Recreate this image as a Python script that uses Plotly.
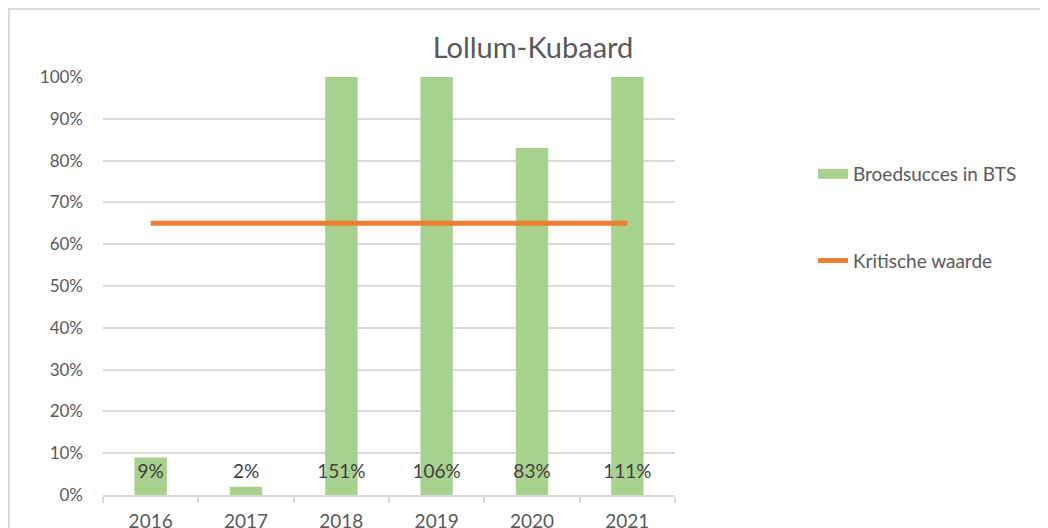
import plotly.graph_objects as go

years = ["2016", "2017", "2018", "2019", "2020", "2021"]
broedsucces = [0.09, 0.02, 1.51, 1.06, 0.83, 1.11]
kritische_waarde = [0.65, 0.65, 0.65, 0.65, 0.65, 0.65]
y_ticks = [0, 0.1, 0.2, 0.3, 0.4, 0.5, 0.6, 0.7, 0.8, 0.9, 1.0]

FONT = "Lato"
GREEN = "#A9D18E"
ORANGE = "#ED7D31"
GRID = "#D9D9D9"
TXT = "#595959"

# figure is placed at (8,8) in the page by the default body margin
W, H = 1040, 520
L, R, T, B = 95, 667, 69, 487
pw, ph = R - L, B - T

fig = go.Figure()
fig.add_trace(go.Bar(
    x=years, y=broedsucces, marker=dict(color=GREEN, line=dict(width=0)),
    name="Broedsucces in BTS", showlegend=False,
))
fig.add_trace(go.Scatter(
    x=years, y=[0.053] * len(years), mode="text",
    text=[f"{round(v*100)}%" for v in broedsucces],
    textfont=dict(family=FONT, size=19, color="#404040"),
    showlegend=False, hoverinfo="skip", cliponaxis=False,
))
fig.add_trace(go.Scatter(
    x=years, y=kritische_waarde, mode="lines",
    line=dict(color=ORANGE, width=5), name="Kritische waarde",
    showlegend=False,
))
# legend proxies
fig.add_trace(go.Scatter(
    x=[None], y=[None], mode="lines", line=dict(color=GREEN, width=11),
    name="Broedsucces in BTS", legendgroup="a",
))
fig.add_trace(go.Scatter(
    x=[None], y=[None], mode="lines", line=dict(color=ORANGE, width=5),
    name="Kritische waarde", legendgroup="b",
))

# outer chart border
fig.add_shape(
    type="rect", xref="paper", yref="paper",
    x0=(1 - L) / pw, x1=(W + 20 - L) / pw,
    y0=(B - H - 40) / ph, y1=(B - 1) / ph,
    line=dict(color=GRID, width=2), fillcolor="rgba(0,0,0,0)", layer="below",
)

fig.update_layout(
    width=W, height=H,
    margin=dict(l=L, r=W - R, t=T, b=H - B, autoexpand=False),
    paper_bgcolor="white", plot_bgcolor="white",
    font=dict(family=FONT, color=TXT, size=17),
    title=dict(text="Lollum-Kubaard", x=525 / W, xref="container", xanchor="center",
               y=1 - 40 / H, yref="container", yanchor="middle",
               font=dict(family=FONT, size=29, color=TXT)),
    bargap=0.66,
    showlegend=True,
    legend=dict(x=(805 - L) / pw, xanchor="left", y=(B - 147) / ph, yanchor="top",
                font=dict(family=FONT, size=19, color=TXT),
                tracegroupgap=59, traceorder="grouped", bgcolor="rgba(0,0,0,0)"),
    xaxis=dict(
        type="category", showgrid=False, showline=True, linecolor=GRID, linewidth=1.5,
        ticks="outside", tickson="boundaries", ticklen=6, tickcolor=GRID, tickwidth=1.5,
        tickfont=dict(family=FONT, size=19, color=TXT), ticklabelstandoff=8,
        fixedrange=True, automargin=False,
    ),
    yaxis=dict(
        range=[0, 1], tickvals=y_ticks, tickformat=".0%", showgrid=True,
        gridcolor=GRID, gridwidth=1.5, zeroline=False, showline=False,
        tickfont=dict(family=FONT, size=17, color=TXT), ticklabelstandoff=19,
        automargin=False,
    ),
)

fig.write_html("out.html")
